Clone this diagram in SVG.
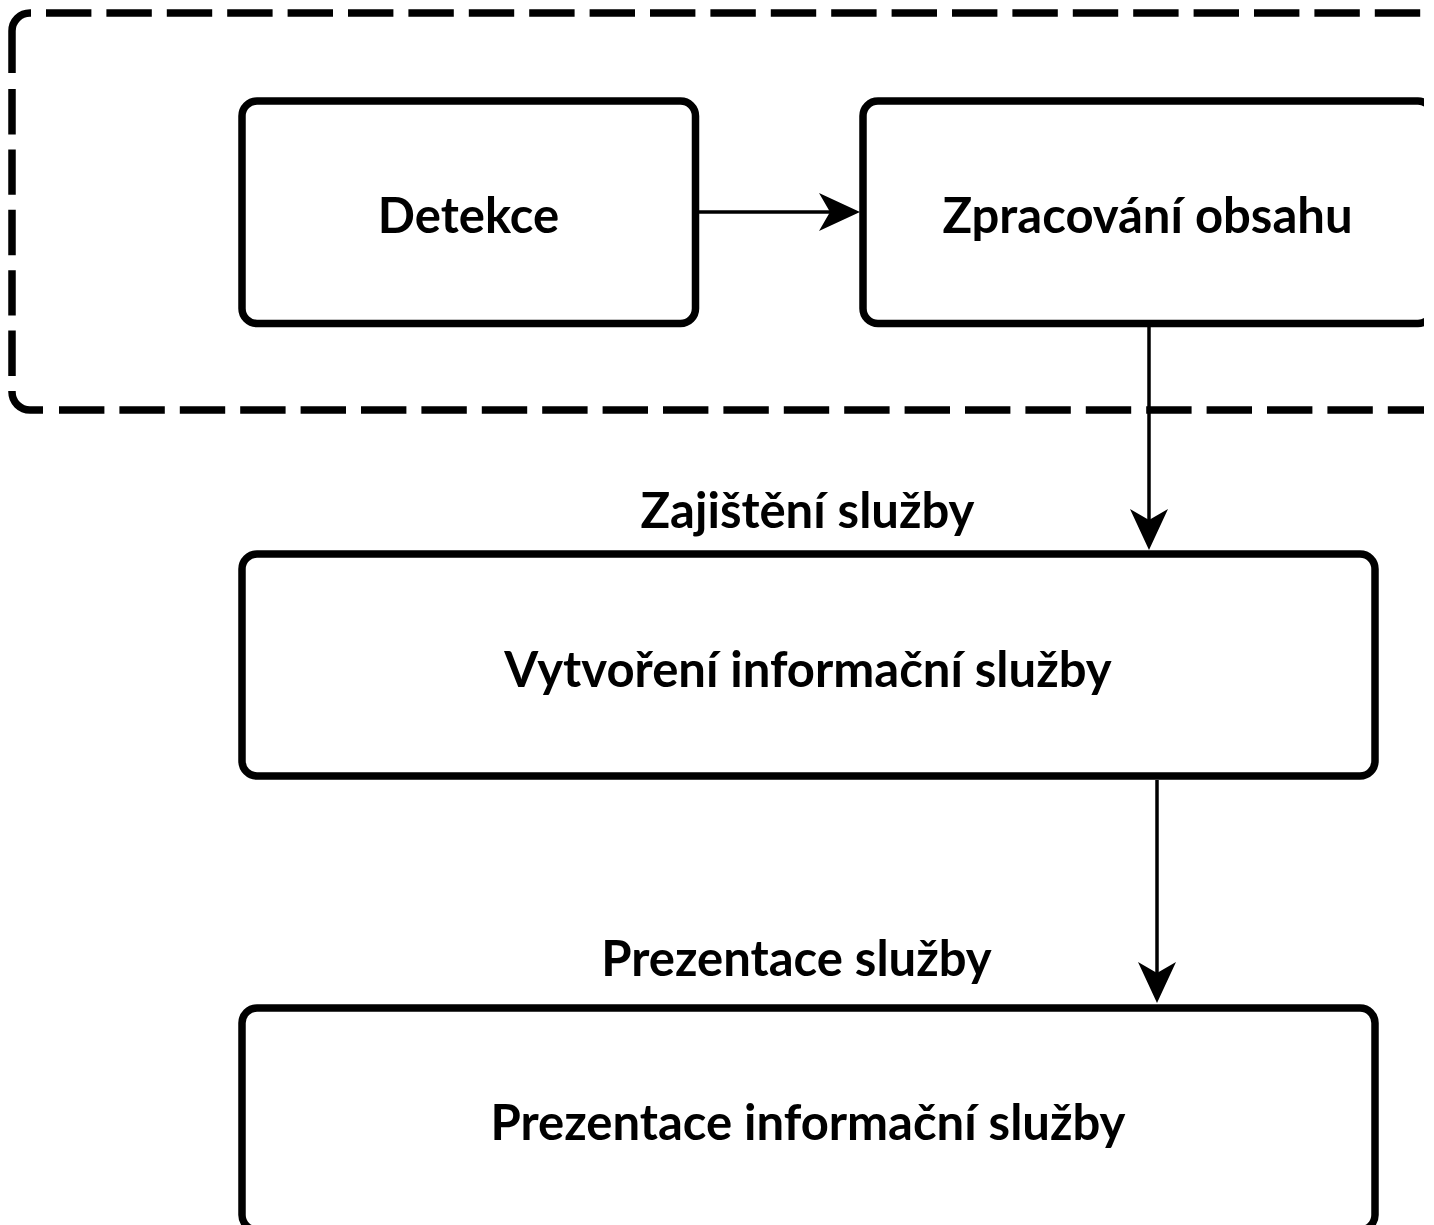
<svg xmlns="http://www.w3.org/2000/svg" width="1434" height="1225" viewBox="0 0 1434 1225">
<style>
.box{fill:#fff;stroke:#000;stroke-width:7.5}
.dash{fill:none;stroke:#000;stroke-width:7.5;stroke-dasharray:45.4 15;stroke-linecap:butt}
.solid{fill:none;stroke:#000;stroke-width:7.5;stroke-linecap:butt}
.edge{fill:none;stroke:#000;stroke-width:3.5}
.t{font-family:Lato,"Open Sans","Liberation Sans",sans-serif;font-weight:bold;font-size:49px;fill:#000;text-anchor:middle}
</style>
<defs>
<clipPath id="clip"><rect x="0" y="0" width="1424" height="1225"/></clipPath>
<marker id="arr" markerUnits="userSpaceOnUse" viewBox="-12 -20 44 40" refX="0" refY="0" markerWidth="44" markerHeight="40" orient="auto" overflow="visible">
<path d="M30,0 L-11,-19 L0,0 L-11,19 Z" fill="#000"/>
</marker>
</defs>
<rect width="1434" height="1225" fill="#fff"/>
<g clip-path="url(#clip)">
<g id="container">
<path class="solid" d="M12,73 L12,31 A18,18 0 0 1 30,13 L31,13"/>
<path class="dash" d="M46,13 L1440,13"/>
<path class="dash" d="M12,89 L12,380"/>
<path class="solid" d="M12,391 L12,392 A18,18 0 0 0 30,410 L43,410"/>
<path class="dash" d="M59,410 L1440,410"/>
</g>
<g id="detekce">
<rect class="box" x="242" y="101" width="453.5" height="222.5" rx="15"/>
<text class="t" x="468.5" y="233">Detekce</text>
</g>
<g id="zpracovani">
<rect class="box" x="863" y="101" width="570" height="222.5" rx="15"/>
<text class="t" x="1147.5" y="233">Zpracování obsahu</text>
</g>
<g id="vytvoreni">
<rect class="box" x="242" y="554" width="1133" height="222" rx="15"/>
<text class="t" x="808" y="687">Vytvoření informační služby</text>
</g>
<g id="prezentace">
<rect class="box" x="242" y="1008" width="1133" height="222" rx="15"/>
<text class="t" x="808" y="1140">Prezentace informační služby</text>
</g>
<g id="connectors">
<path class="edge" d="M699,212 L830,212" marker-end="url(#arr)"/>
<path class="edge" d="M1149,327 L1149,520" marker-end="url(#arr)"/>
<path class="edge" d="M1157,780 L1157,973" marker-end="url(#arr)"/>
<text class="t" x="807.5" y="528">Zajištění služby</text>
<text class="t" x="796.5" y="976">Prezentace služby</text>
</g>
</g>
</svg>
